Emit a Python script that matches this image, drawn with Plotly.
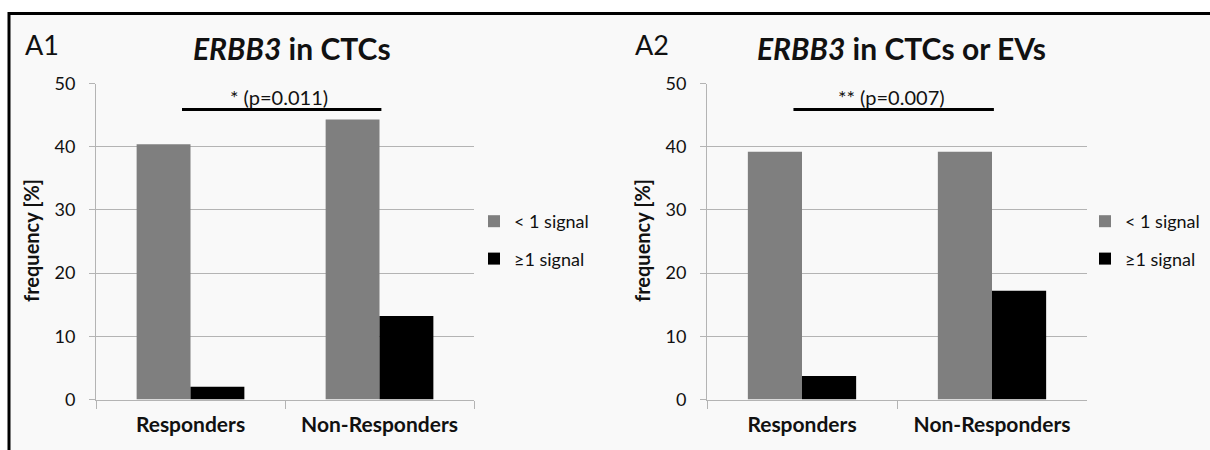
import plotly.graph_objects as go

# ---------------- data ----------------
categories = ["Responders", "Non-Responders"]
series_names = ["< 1 signal", "≥1 signal"]
a1_lt1 = [40.4, 44.3]
a1_ge1 = [2.0, 13.2]
a2_lt1 = [39.2, 39.2]
a2_ge1 = [3.7, 17.2]
y_ticks = [0, 10, 20, 30, 40, 50]
panel_labels = ["A1", "A2"]
panel_titles = ["<b><i>ERBB3</i> in CTCs</b>", "<b><i>ERBB3</i> in CTCs or EVs</b>"]
sig_texts = ["* (p=0.011)", "** (p=0.007)"]
sig_level = 45.9
sig_text_level = 47.9

FONT = "Lato"
GRAY = "#7f7f7f"
BLACK = "#000000"
GRID = "#b4b4b4"
TXT = "#111111"
W, H = 1210, 450


def px(x):
    return x / W


def py(y):
    return 1 - y / H


fig = go.Figure()

panels = [(a1_lt1, a1_ge1), (a2_lt1, a2_ge1)]
for i, (lt, ge) in enumerate(panels):
    xa = "x" if i == 0 else "x2"
    ya = "y" if i == 0 else "y2"
    lg = "legend" if i == 0 else "legend2"
    fig.add_trace(go.Bar(x=categories, y=lt, name=series_names[0], marker_color=GRAY,
                         marker_line_width=0, xaxis=xa, yaxis=ya, legend=lg,
                         legendgroup=f"g{i}a"))
    fig.add_trace(go.Bar(x=categories, y=ge, name=series_names[1], marker_color=BLACK,
                         marker_line_width=0, xaxis=xa, yaxis=ya, legend=lg,
                         legendgroup=f"g{i}b"))

x_domains = [[px(96), px(474)], [px(707), px(1087)]]
y_domain = [py(399.5), py(83.5)]

axis_common_x = dict(type="category", showline=True, linecolor=GRID, linewidth=1,
                     ticks="outside", tickson="boundaries", ticklen=8, tickcolor=GRID,
                     tickwidth=1, showgrid=False, ticklabelstandoff=6, automargin=False,
                     tickfont=dict(family=FONT, size=21, color=TXT, weight="bold"))
axis_common_y = dict(range=[0, 50], tickvals=y_ticks, showline=True, linecolor=GRID,
                     linewidth=1, ticks="outside", ticklen=6, tickcolor=GRID,
                     showgrid=True, gridcolor=GRID, gridwidth=1, zeroline=False,
                     ticklabelstandoff=10, automargin=False,
                     tickfont=dict(family=FONT, size=18, color=TXT))

legend_common = dict(xanchor="left", yanchor="top", bgcolor="rgba(0,0,0,0)",
                     tracegroupgap=11, traceorder="grouped", borderwidth=0,
                     font=dict(family=FONT, size=18, color=TXT))

fig.update_layout(
    width=W, height=H,
    margin=dict(l=0, r=0, t=0, b=0, autoexpand=False),
    paper_bgcolor="white",
    plot_bgcolor="rgba(0,0,0,0)",
    barmode="group",
    bargap=0.43,
    bargroupgap=0,
    xaxis=dict(domain=x_domains[0], anchor="y", **axis_common_x),
    yaxis=dict(domain=y_domain, anchor="x", **axis_common_y),
    xaxis2=dict(domain=x_domains[1], anchor="y2", **axis_common_x),
    yaxis2=dict(domain=y_domain, anchor="x2", **axis_common_y),
    legend=dict(x=px(474), y=py(203), **legend_common),
    legend2=dict(x=px(1085), y=py(203), **legend_common),
    showlegend=True,
)

# Background box with top and left border
fig.add_shape(type="rect", xref="paper", yref="paper",
              x0=px(9), x1=1.05, y0=-0.05, y1=py(13.5),
              fillcolor="#f9f9f9", line=dict(color="black", width=3), layer="below")

# panel labels, titles, y-axis titles, significance bars
label_x = [42, 652]
title_x = [292, 901]
ytitle_x = [31, 642]
for i in range(2):
    fig.add_annotation(text=panel_labels[i], xref="paper", yref="paper",
                       x=px(label_x[i]), y=py(45), xanchor="center", yanchor="middle",
                       showarrow=False, font=dict(family=FONT, size=27, color=TXT))
    fig.add_annotation(text=panel_titles[i], xref="paper", yref="paper",
                       x=px(title_x[i]), y=py(48), xanchor="center", yanchor="middle",
                       showarrow=False, font=dict(family=FONT, size=30, color=TXT))
    fig.add_annotation(text="<b>frequency [%]</b>", xref="paper", yref="paper",
                       x=px(ytitle_x[i]), y=py(241), xanchor="center", yanchor="middle",
                       textangle=-90, showarrow=False,
                       font=dict(family=FONT, size=20, color=TXT))
    xa = "x" if i == 0 else "x2"
    ya = "y" if i == 0 else "y2"
    fig.add_shape(type="line", xref=xa, yref=ya, x0=-0.045, x1=1.01,
                  y0=sig_level, y1=sig_level, line=dict(color="black", width=3))
    fig.add_annotation(text=sig_texts[i], xref=xa, yref=ya,
                       x=0.47, y=sig_text_level, xanchor="center", yanchor="middle",
                       showarrow=False, font=dict(family=FONT, size=20, color=TXT))

fig.write_html("out.html", config={"displayModeBar": False},
               post_script="document.body.style.margin='0px';")
